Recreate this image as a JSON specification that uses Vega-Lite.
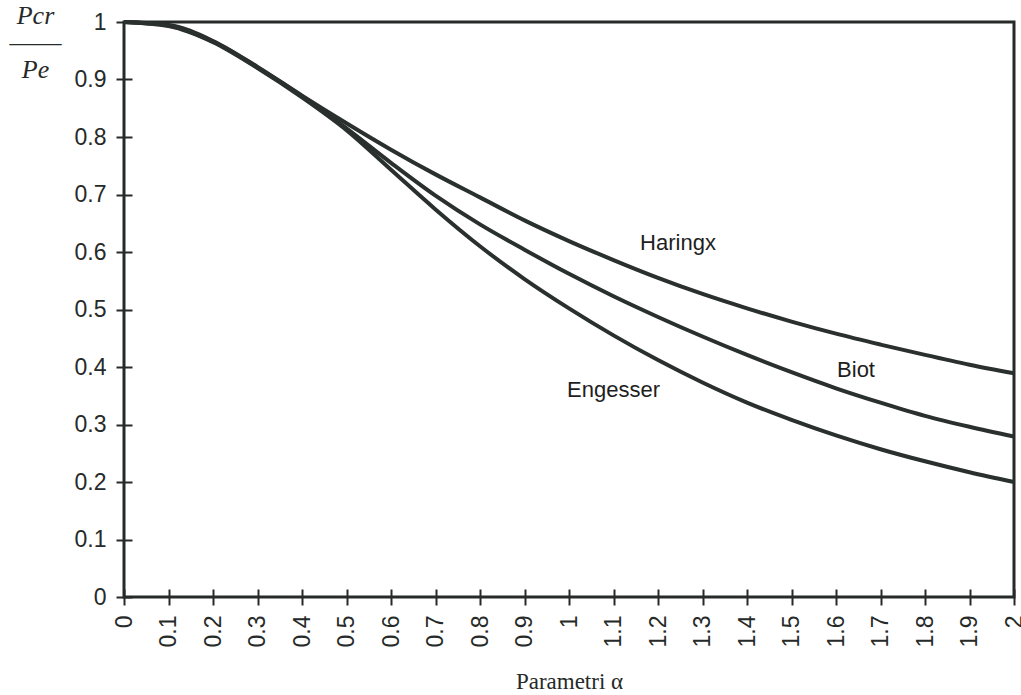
{
  "$schema": "https://vega.github.io/schema/vega-lite/v6.json",
  "width": 890,
  "height": 575,
  "autosize": {"type": "none"},
  "padding": {"left": 124, "top": 22, "right": 7, "bottom": 98},
  "background": "#ffffff",
  "config": {
    "view": {"stroke": "#262a28", "strokeWidth": 3},
    "font": "Liberation Sans"
  },
  "datasets": {
    "curves": [
      {"alpha": 0.0, "ratio": 1.0, "model": "Haringx"},
      {"alpha": 0.1, "ratio": 0.995, "model": "Haringx"},
      {"alpha": 0.2, "ratio": 0.967, "model": "Haringx"},
      {"alpha": 0.3, "ratio": 0.922, "model": "Haringx"},
      {"alpha": 0.4, "ratio": 0.872, "model": "Haringx"},
      {"alpha": 0.5, "ratio": 0.824, "model": "Haringx"},
      {"alpha": 0.6, "ratio": 0.778, "model": "Haringx"},
      {"alpha": 0.7, "ratio": 0.735, "model": "Haringx"},
      {"alpha": 0.8, "ratio": 0.695, "model": "Haringx"},
      {"alpha": 0.9, "ratio": 0.655, "model": "Haringx"},
      {"alpha": 1.0, "ratio": 0.619, "model": "Haringx"},
      {"alpha": 1.1, "ratio": 0.586, "model": "Haringx"},
      {"alpha": 1.2, "ratio": 0.555, "model": "Haringx"},
      {"alpha": 1.3, "ratio": 0.527, "model": "Haringx"},
      {"alpha": 1.4, "ratio": 0.502, "model": "Haringx"},
      {"alpha": 1.5, "ratio": 0.479, "model": "Haringx"},
      {"alpha": 1.6, "ratio": 0.458, "model": "Haringx"},
      {"alpha": 1.7, "ratio": 0.439, "model": "Haringx"},
      {"alpha": 1.8, "ratio": 0.421, "model": "Haringx"},
      {"alpha": 1.9, "ratio": 0.404, "model": "Haringx"},
      {"alpha": 2.0, "ratio": 0.389, "model": "Haringx"},
      {"alpha": 0.0, "ratio": 1.0, "model": "Biot"},
      {"alpha": 0.1, "ratio": 0.994, "model": "Biot"},
      {"alpha": 0.2, "ratio": 0.966, "model": "Biot"},
      {"alpha": 0.3, "ratio": 0.921, "model": "Biot"},
      {"alpha": 0.4, "ratio": 0.871, "model": "Biot"},
      {"alpha": 0.5, "ratio": 0.815, "model": "Biot"},
      {"alpha": 0.6, "ratio": 0.755, "model": "Biot"},
      {"alpha": 0.7, "ratio": 0.698, "model": "Biot"},
      {"alpha": 0.8, "ratio": 0.648, "model": "Biot"},
      {"alpha": 0.9, "ratio": 0.604, "model": "Biot"},
      {"alpha": 1.0, "ratio": 0.562, "model": "Biot"},
      {"alpha": 1.1, "ratio": 0.523, "model": "Biot"},
      {"alpha": 1.2, "ratio": 0.487, "model": "Biot"},
      {"alpha": 1.3, "ratio": 0.453, "model": "Biot"},
      {"alpha": 1.4, "ratio": 0.421, "model": "Biot"},
      {"alpha": 1.5, "ratio": 0.391, "model": "Biot"},
      {"alpha": 1.6, "ratio": 0.363, "model": "Biot"},
      {"alpha": 1.7, "ratio": 0.338, "model": "Biot"},
      {"alpha": 1.8, "ratio": 0.315, "model": "Biot"},
      {"alpha": 1.9, "ratio": 0.296, "model": "Biot"},
      {"alpha": 2.0, "ratio": 0.279, "model": "Biot"},
      {"alpha": 0.0, "ratio": 1.0, "model": "Engesser"},
      {"alpha": 0.1, "ratio": 0.993, "model": "Engesser"},
      {"alpha": 0.2, "ratio": 0.965, "model": "Engesser"},
      {"alpha": 0.3, "ratio": 0.92, "model": "Engesser"},
      {"alpha": 0.4, "ratio": 0.869, "model": "Engesser"},
      {"alpha": 0.5, "ratio": 0.812, "model": "Engesser"},
      {"alpha": 0.6, "ratio": 0.743, "model": "Engesser"},
      {"alpha": 0.7, "ratio": 0.674, "model": "Engesser"},
      {"alpha": 0.8, "ratio": 0.61, "model": "Engesser"},
      {"alpha": 0.9, "ratio": 0.553, "model": "Engesser"},
      {"alpha": 1.0, "ratio": 0.502, "model": "Engesser"},
      {"alpha": 1.1, "ratio": 0.455, "model": "Engesser"},
      {"alpha": 1.2, "ratio": 0.412, "model": "Engesser"},
      {"alpha": 1.3, "ratio": 0.373, "model": "Engesser"},
      {"alpha": 1.4, "ratio": 0.338, "model": "Engesser"},
      {"alpha": 1.5, "ratio": 0.308, "model": "Engesser"},
      {"alpha": 1.6, "ratio": 0.281, "model": "Engesser"},
      {"alpha": 1.7, "ratio": 0.257, "model": "Engesser"},
      {"alpha": 1.8, "ratio": 0.236, "model": "Engesser"},
      {"alpha": 1.9, "ratio": 0.217, "model": "Engesser"},
      {"alpha": 2.0, "ratio": 0.2, "model": "Engesser"}
    ],
    "labels": [
      {"alpha": 1.245, "ratio": 0.616, "text": "Haringx"},
      {"alpha": 1.645, "ratio": 0.395, "text": "Biot"},
      {"alpha": 1.1, "ratio": 0.36, "text": "Engesser"}
    ]
  },
  "encoding": {
    "x": {
      "field": "alpha",
      "type": "quantitative",
      "scale": {"domain": [0, 2], "nice": false, "zero": false},
      "axis": {
        "title": "Parametri α",
        "titleFont": "Liberation Serif",
        "titleFontWeight": "normal",
        "titleFontSize": 23,
        "titleColor": "#262a28",
        "titlePadding": 24,
        "values": [0, 0.1, 0.2, 0.3, 0.4, 0.5, 0.6, 0.7, 0.8, 0.9, 1, 1.1, 1.2, 1.3, 1.4, 1.5, 1.6, 1.7, 1.8, 1.9, 2],
        "format": ".1~f",
        "labelAngle": -90,
        "labelFontSize": 23,
        "labelColor": "#262a28",
        "labelPadding": 10,
        "labelOverlap": false,
        "labelBound": false,
        "labelFlush": false,
        "domain": false,
        "offset": -8,
        "tickSize": 16,
        "tickWidth": 2,
        "tickColor": "#262a28",
        "grid": false
      }
    },
    "y": {
      "field": "ratio",
      "type": "quantitative",
      "scale": {"domain": [0, 1], "nice": false},
      "axis": {
        "title": ["Pcr", "――", "Pe"],
        "titleFont": "Liberation Serif",
        "titleFontStyle": "italic",
        "titleFontWeight": "normal",
        "titleFontSize": 26,
        "titleLineHeight": 27,
        "titleColor": "#262a28",
        "titleAngle": 0,
        "titleAlign": "center",
        "titleBaseline": "top",
        "titleX": -97,
        "titleY": -20,
        "values": [0, 0.1, 0.2, 0.3, 0.4, 0.5, 0.6, 0.7, 0.8, 0.9, 1],
        "format": ".1~f",
        "labelFontSize": 23,
        "labelColor": "#262a28",
        "labelPadding": 10,
        "labelOverlap": false,
        "labelBound": false,
        "labelFlush": false,
        "domain": false,
        "offset": -8,
        "tickSize": 16,
        "tickWidth": 2,
        "tickColor": "#262a28",
        "grid": false
      }
    }
  },
  "layer": [
    {
      "data": {"name": "curves"},
      "mark": {"type": "line", "interpolate": "monotone", "strokeWidth": 4, "color": "#2a302d"},
      "encoding": {"detail": {"field": "model"}}
    },
    {
      "data": {"name": "labels"},
      "mark": {"type": "text", "fontSize": 22, "font": "Liberation Sans", "color": "#1e1e1e", "align": "center", "baseline": "middle"},
      "encoding": {"text": {"field": "text"}}
    }
  ]
}
